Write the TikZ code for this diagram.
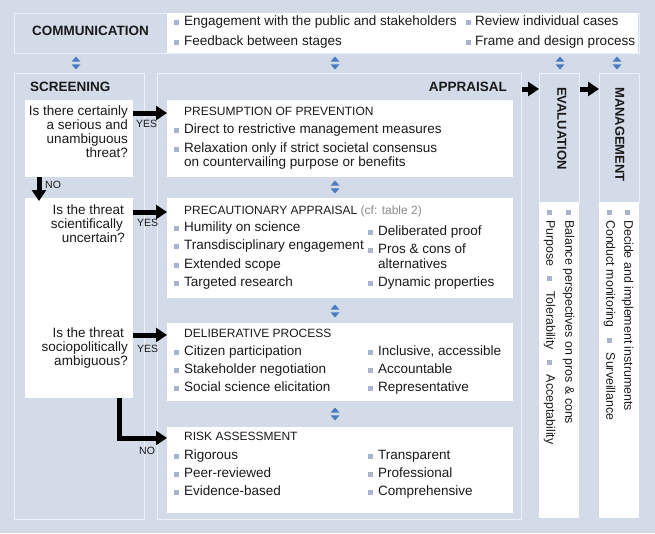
\documentclass[tikz,border=0pt]{standalone}
\usepackage{fontspec}
\setmainfont{Liberation Sans}
\usetikzlibrary{arrows.meta}
\definecolor{bgc}{HTML}{D3DAE8}
\definecolor{linec}{HTML}{EEF1F7}
\definecolor{bulc}{HTML}{A7B3CC}
\definecolor{arrc}{HTML}{4A7BBF}
\definecolor{txtc}{HTML}{1A1A1A}
\definecolor{grayc}{HTML}{8C8C8C}
\newcommand{\bsq}{\textcolor{bulc}{\rule[0.6pt]{5pt}{5pt}}}
\newcommand{\fsA}{\fontsize{13.5}{15}\selectfont}
\newcommand{\fsH}{\fontsize{12}{14}\selectfont}
\newcommand{\fsS}{\fontsize{10.5}{12}\selectfont}
\newcommand{\fsR}{\fontsize{12.4}{14}\selectfont}
\newcommand{\fsT}{\fontsize{13}{15}\selectfont}
\newcommand{\udarrow}[1]{\begin{scope}[shift={(#1)}]
  \fill[arrc] (-4.5,-1.3) -- (4.5,-1.3) -- (0,-6.5) -- cycle;
  \fill[arrc] (-4.5,1.3) -- (4.5,1.3) -- (0,6.5) -- cycle;
\end{scope}}
\begin{document}
\begin{tikzpicture}[x=1pt,y=-1pt,
  panel/.style={draw=linec, line width=1.3pt, inner sep=0pt, anchor=north west},
  wbox/.style={fill=white, draw=none, inner sep=0pt, anchor=north west},
  itm/.style={font=\fsA, text=txtc, inner sep=0pt, anchor=mid west},
  qtx/.style={font=\fsA, text=txtc, inner sep=0pt, anchor=mid east},
  hd/.style={font=\fsH, text=txtc, inner sep=0pt, anchor=mid west},
  ttl/.style={font=\fsA\bfseries, text=txtc, inner sep=0pt, anchor=mid west},
  lbl/.style={font=\fsS, text=txtc, inner sep=0pt, anchor=mid west},
  rtx/.style={font=\fsR, text=txtc, inner sep=0pt, anchor=mid west, rotate=-90},
  rttl/.style={font=\fsT\bfseries, text=txtc, inner sep=0pt, anchor=mid west, rotate=-90},
  bigarr/.style={line width=5pt, draw=black, -{Triangle[length=11pt,width=14pt]}},
]
\fill[bgc] (0,0) rectangle (655,533);
\useasboundingbox (0,0) rectangle (655,533);

% communication bar
\node[panel, minimum width=625pt, minimum height=40pt] (commf) at (14,13) {};
\node[wbox, minimum width=471pt, minimum height=40pt] (commw) at (167,13) {};
\node[ttl] (commt) at (32,33) {COMMUNICATION};
\node[itm] (c1) at (174,23) {\bsq\hspace{5pt}Engagement with the public and stakeholders};
\node[itm] (c2) at (174,43) {\bsq\hspace{5pt}Feedback between stages};
\node[itm] (c3) at (466,23) {\bsq\hspace{4pt}Review individual cases};
\node[itm] (c4) at (466,43) {\bsq\hspace{4pt}Frame and design process};

% small up/down arrows
\coordinate (ua1) at (76,63);
\coordinate (ua2) at (335,63);
\coordinate (ua3) at (560,63);
\coordinate (ua4) at (617,63);
\coordinate (ua5) at (335,187);
\coordinate (ua6) at (335,311);
\coordinate (ua7) at (335,414);
\foreach \p in {ua1,ua2,ua3,ua4,ua5,ua6,ua7}{\udarrow{\p}}

% panels
\node[panel, minimum width=130pt, minimum height=446pt] (scr) at (14,73) {};
\node[panel, minimum width=364pt, minimum height=446pt] (app) at (157,73) {};
\node[panel, minimum width=40pt, minimum height=129pt] (evl) at (539,73) {};
\node[wbox, minimum width=40pt, minimum height=316pt] (evw) at (539,202) {};
\node[panel, minimum width=40pt, minimum height=129pt] (mgl) at (599,73) {};
\node[wbox, minimum width=40pt, minimum height=316pt] (mgw) at (599,202) {};

\node[ttl] (scrt) at (30,89) {SCREENING};
\node[ttl, anchor=mid east] (appt) at (507,89) {APPRAISAL};

% white boxes
\node[wbox, minimum width=108pt, minimum height=77pt] (q1) at (25,100) {};
\node[wbox, minimum width=108pt, minimum height=200pt] (q23) at (25,198) {};
\node[wbox, minimum width=346pt, minimum height=77pt] (pres) at (167,100) {};
\node[wbox, minimum width=346pt, minimum height=100pt] (prec) at (167,198) {};
\node[wbox, minimum width=346pt, minimum height=78pt] (deli) at (167,323) {};
\node[wbox, minimum width=346pt, minimum height=86pt] (risk) at (167,427) {};

% screening questions
\node[qtx] (q1a) at (128,113) {Is there certainly};
\node[qtx] (q1b) at (128,127) {a serious and};
\node[qtx] (q1c) at (128,141) {unambiguous};
\node[qtx] (q1d) at (128,155) {threat?};
\node[qtx] (q2a) at (124,212) {Is the threat};
\node[qtx] (q2b) at (123,226) {scientifically};
\node[qtx] (q2c) at (125,240) {uncertain?};
\node[qtx] (q3a) at (124,335) {Is the threat};
\node[qtx] (q3b) at (128,349) {sociopolitically};
\node[qtx] (q3c) at (128,363) {ambiguous?};

% presumption
\node[hd] (ph) at (184,113) {PRESUMPTION OF PREVENTION};
\node[itm] (p1) at (174,131) {\bsq\hspace{5pt}Direct to restrictive management measures};
\node[itm] (p2) at (174,150) {\bsq\hspace{5pt}Relaxation only if strict societal consensus};
\node[itm] (p3) at (184,164) {on countervailing purpose or benefits};

% precautionary
\node[hd] (pch) at (184,212) {PRECAUTIONARY APPRAISAL \textcolor{grayc}{(cf: table 2)}};
\node[itm] (pc1) at (174,229) {\bsq\hspace{5pt}Humility on science};
\node[itm] (pc2) at (174,247) {\bsq\hspace{5pt}Transdisciplinary engagement};
\node[itm] (pc3) at (174,266) {\bsq\hspace{5pt}Extended scope};
\node[itm] (pc4) at (174,284) {\bsq\hspace{5pt}Targeted research};
\node[itm] (pc5) at (368,233) {\bsq\hspace{5pt}Deliberated proof};
\node[itm] (pc6) at (368,251) {\bsq\hspace{5pt}Pros \& cons of};
\node[itm] (pc7) at (378,266) {alternatives};
\node[itm] (pc8) at (368,284) {\bsq\hspace{5pt}Dynamic properties};

% deliberative
\node[hd] (dh) at (184,335) {DELIBERATIVE PROCESS};
\node[itm] (d1) at (174,353) {\bsq\hspace{5pt}Citizen participation};
\node[itm] (d2) at (174,371) {\bsq\hspace{5pt}Stakeholder negotiation};
\node[itm] (d3) at (174,389) {\bsq\hspace{5pt}Social science elicitation};
\node[itm] (d4) at (368,353) {\bsq\hspace{5pt}Inclusive, accessible};
\node[itm] (d5) at (368,371) {\bsq\hspace{5pt}Accountable};
\node[itm] (d6) at (368,389) {\bsq\hspace{5pt}Representative};

% risk assessment
\node[hd] (rh) at (184,438) {RISK ASSESSMENT};
\node[itm] (r1) at (174,457) {\bsq\hspace{5pt}Rigorous};
\node[itm] (r2) at (174,475) {\bsq\hspace{5pt}Peer-reviewed};
\node[itm] (r3) at (174,493) {\bsq\hspace{5pt}Evidence-based};
\node[itm] (r4) at (368,457) {\bsq\hspace{5pt}Transparent};
\node[itm] (r5) at (368,475) {\bsq\hspace{5pt}Professional};
\node[itm] (r6) at (368,493) {\bsq\hspace{5pt}Comprehensive};

% evaluation / management
\node[rttl] (evt) at (560,87) {EVALUATION};
\node[rttl] (mgt) at (618,87) {MANAGEMENT};
\node[rtx] (e1) at (568,210) {\bsq\hspace{5pt}Balance perspectives on pros \& cons};
\node[rtx] (e2) at (549,210) {\bsq\hspace{5pt}Purpose\hspace{10pt}\bsq\hspace{10pt}Tolerability\hspace{10pt}\bsq\hspace{10pt}Acceptability};
\node[rtx] (m1) at (627,210) {\bsq\hspace{5pt}Decide and implement instruments};
\node[rtx] (m2) at (609,210) {\bsq\hspace{5pt}Conduct monitoring\hspace{10pt}\bsq\hspace{10pt}Surveillance};

% labels
\node[lbl] (yes1) at (136,125) {YES};
\node[lbl] (yes2) at (137,224) {YES};
\node[lbl] (yes3) at (137,350) {YES};
\node[lbl] (no1) at (45,186) {NO};
\node[lbl] (no2) at (139,452) {NO};

% big arrows
\coordinate (ya1) at (0,113);
\coordinate (ya2) at (0,212);
\coordinate (ya3) at (0,335);
\coordinate (ya4) at (0,438);
\coordinate (yae) at (0,89);
\coordinate (xno) at (39,0);
\coordinate (xel) at (119.5,0);
\draw[bigarr] (q1.east |- ya1) -- (pres.west |- ya1);
\draw[bigarr] (q23.east |- ya2) -- (prec.west |- ya2);
\draw[bigarr] (q23.east |- ya3) -- (deli.west |- ya3);
\draw[bigarr] (q1.south -| xno) -- ([yshift=-3pt]q23.north -| xno);
\draw[bigarr] (q23.south -| xel) |- (risk.west |- ya4);
\draw[bigarr] (app.east |- yae) -- (evl.west |- yae);
\draw[bigarr] (evl.east |- yae) -- (mgl.west |- yae);
\end{tikzpicture}
\end{document}
